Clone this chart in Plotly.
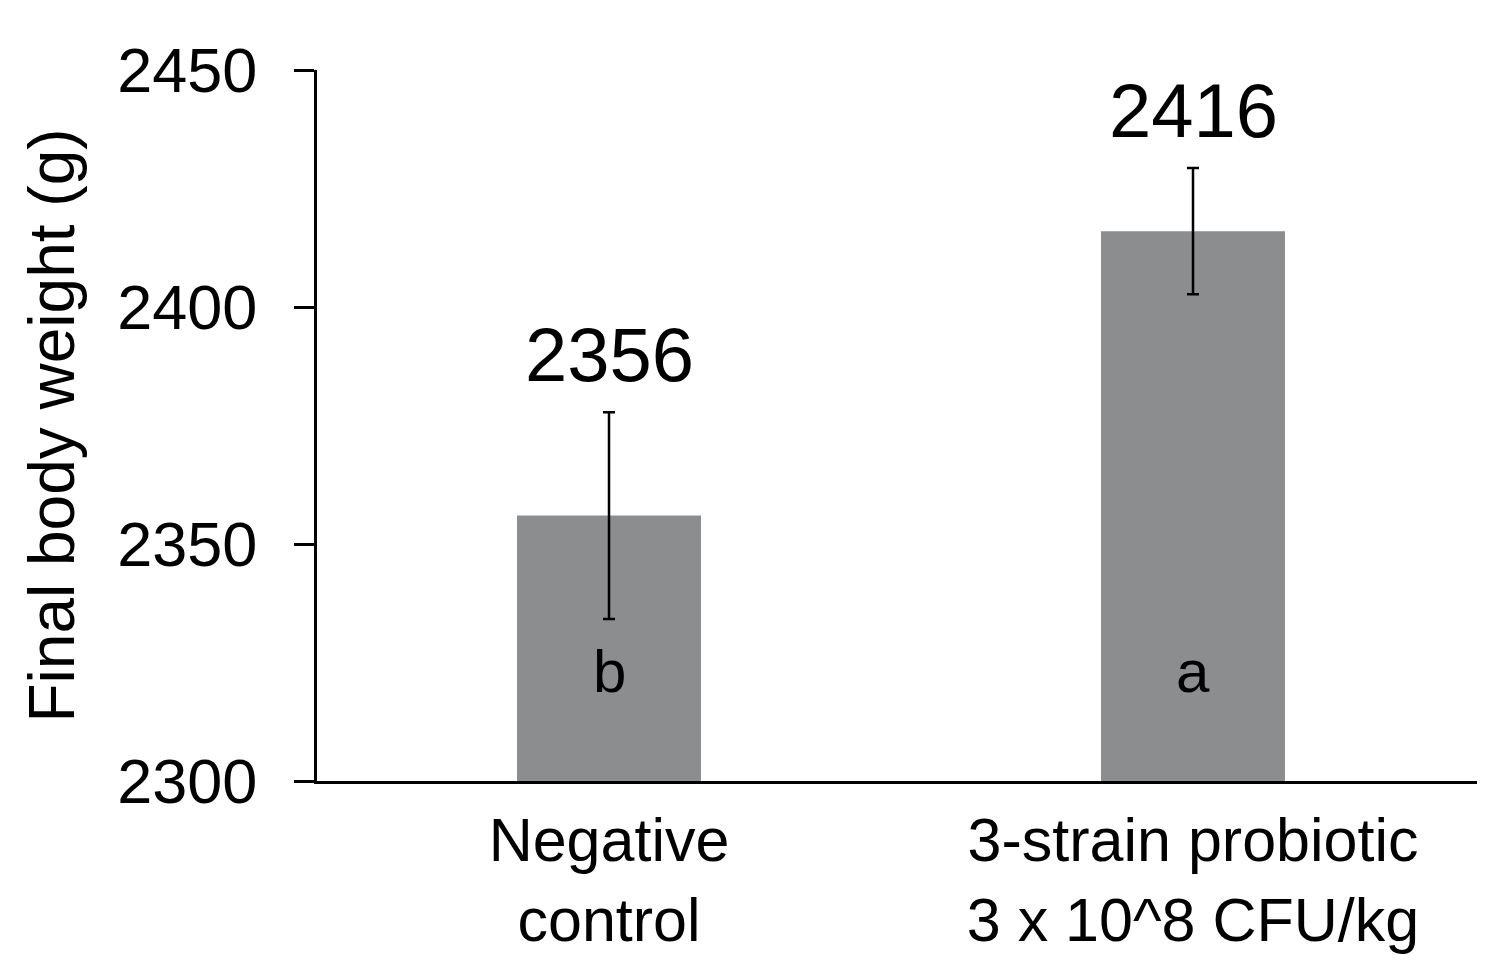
import plotly.graph_objects as go

categories = ["Negative<br>control", "3-strain probiotic<br>3 x 10^8 CFU/kg"]
means = [2356, 2416]
errors = [21.8, 13.3]
letters = ["b", "a"]
y_ticks = [2300, 2350, 2400, 2450]
letter_y = 2323

FONT = "Liberation Sans, Arial, sans-serif"

fig = go.Figure()
fig.add_trace(go.Bar(
    x=categories, y=means, width=0.315,
    marker=dict(color="#8c8d8f", line=dict(width=0)),
    error_y=dict(type="data", array=errors, visible=True, color="black", thickness=2.5, width=6),
))

for c, m, e, l in zip(categories, means, errors, letters):
    fig.add_annotation(x=c, y=m + e, text=str(m), showarrow=False, yanchor="bottom", yshift=13,
                       font=dict(size=76, color="black", family=FONT))
    fig.add_annotation(x=c, y=letter_y, text=l, showarrow=False, yanchor="middle",
                       font=dict(size=60, color="black", family=FONT))

fig.update_layout(
    width=1477, height=956,
    margin=dict(l=309, r=0, t=62, b=183, autoexpand=False),
    paper_bgcolor="white", plot_bgcolor="white",
    showlegend=False,
    font=dict(family=FONT, color="black"),
)
fig.update_yaxes(
    automargin=False,
    range=[2300, 2450], tickvals=y_ticks, showgrid=False, zeroline=False,
    showline=True, linecolor="black", linewidth=3,
    ticks="outside", ticklen=20, tickwidth=3, tickcolor="black",
    tickfont=dict(size=63, family=FONT, color="black"),
    ticklabelstandoff=24,
    title=dict(text="Final body weight (g)", font=dict(size=64, family=FONT, color="black"), standoff=22),
)
fig.update_xaxes(
    automargin=False,
    showgrid=False, showline=True, linecolor="black", linewidth=3, ticks="",
    tickfont=dict(size=61, family=FONT, color="black"),
    ticklabelstandoff=4,
)

fig.write_html("out.html")
